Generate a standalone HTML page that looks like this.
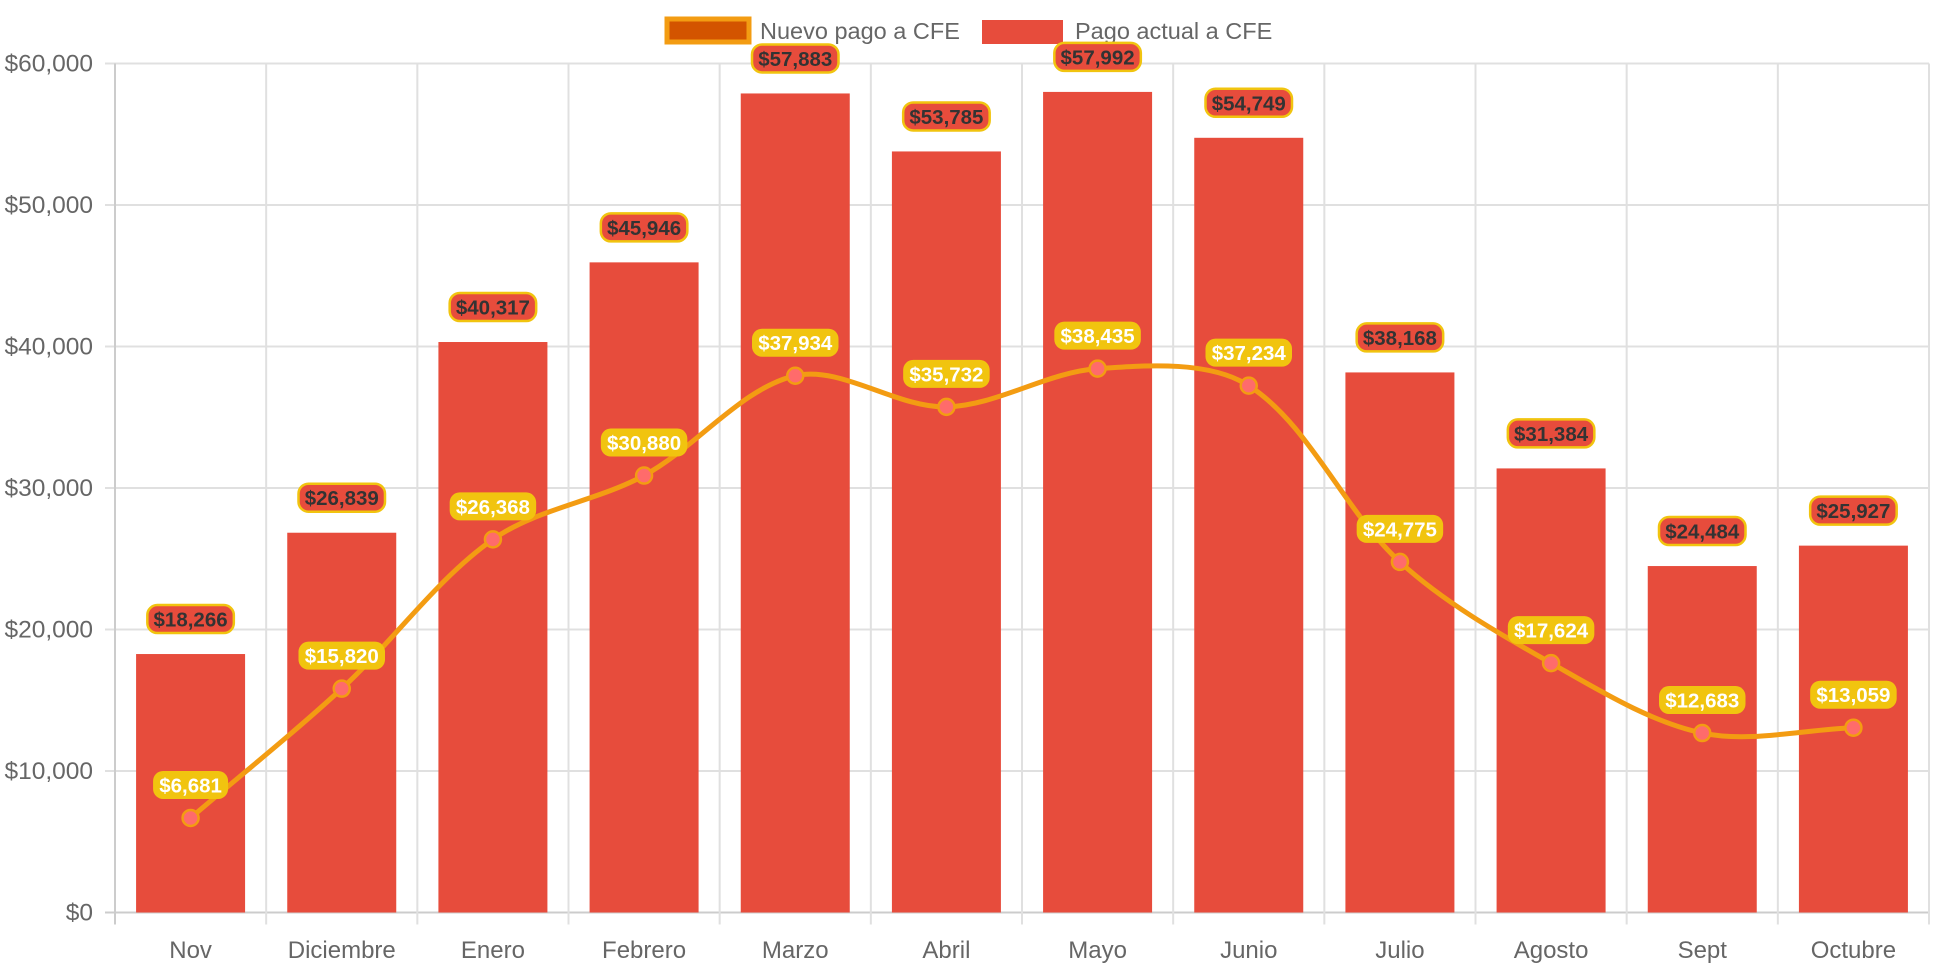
<!DOCTYPE html>
<html><head><meta charset="utf-8"><style>
html,body{margin:0;padding:0;background:#fff;}
svg{display:block;font-family:"Liberation Sans",Arial,sans-serif;}
</style></head><body>
<svg id="chart" width="1942" height="970" viewBox="0 0 1942 970">
<g id="legend">
 <g>
  <rect x="667" y="19" width="82" height="23" fill="#d35400" stroke="#f39c12" stroke-width="5"/>
  <text x="760" y="39" font-size="23.5" fill="#666">Nuevo pago a CFE</text>
 </g>
 <g>
  <rect x="982" y="20" width="81" height="24" fill="#e74c3c"/>
  <text x="1075" y="39" font-size="23.5" fill="#666">Pago actual a CFE</text>
 </g>
</g>
<g id="grid"></g>
<g id="bars"></g>
<g id="line"></g>
<g id="labels"></g>
</svg>
<script>
const categories=["Nov","Diciembre","Enero","Febrero","Marzo","Abril","Mayo","Junio","Julio","Agosto","Sept","Octubre"];
const actualValues=[18266,26839,40317,45946,57883,53785,57992,54749,38168,31384,24484,25927];
const newValues=[6681,15820,26368,30880,37934,35732,38435,37234,24775,17624,12683,13059];
const yTicks=[0,10000,20000,30000,40000,50000,60000];
const NS="http://www.w3.org/2000/svg";
const L=115,R=1929,T=63.5,B=912.5,YMAX=60000;
const cw=(R-L)/categories.length;
const xC=i=>L+cw*(i+0.5);
const y=v=>B-(v/YMAX)*(B-T);
const fmt=v=>"$"+v.toLocaleString("en-US");
function mk(tag,attrs,parent){const e=document.createElementNS(NS,tag);for(const k in attrs)e.setAttribute(k,attrs[k]);parent.appendChild(e);return e;}
const grid=document.getElementById('grid');
yTicks.forEach(v=>{
 const ln=mk('line',{x1:L-10,x2:R,y1:y(v),y2:y(v),stroke:v===0?'#ccc':'#e0e0e0','stroke-width':2},grid);
 
 
 const t=mk('text',{x:L-22,y:y(v)+8,'text-anchor':'end','font-size':24.5,fill:'#666'},grid);
 t.textContent=fmt(v);
 
 
});
for(let i=0;i<=categories.length;i++){
 const x=L+cw*i;
 const ln=mk('line',{x1:x,x2:x,y1:T,y2:B+12,stroke:i===0?'#ccc':'#e0e0e0','stroke-width':2},grid);
 
 
}
categories.forEach((c,i)=>{
 const t=mk('text',{x:xC(i),y:958,'text-anchor':'middle','font-size':24,fill:'#666'},grid);
 t.textContent=c;
 
 
});
const bars=document.getElementById('bars');
const bw=109;
actualValues.forEach((v,i)=>{
 const r=mk('rect',{x:xC(i)-bw/2,y:y(v),width:bw,height:B-y(v),fill:'#e74c3c'},bars);
 
 
});
const pts=newValues.map((v,i)=>({x:xC(i),y:y(v)}));
const t=0.33,cps=[];
for(let i=0;i<pts.length;i++){
 const p=pts[i-1]||pts[i],c=pts[i],n=pts[i+1]||pts[i];
 const d01=Math.hypot(c.x-p.x,c.y-p.y),d12=Math.hypot(n.x-c.x,n.y-c.y);
 let s01=d01/(d01+d12),s12=d12/(d01+d12);
 if(isNaN(s01))s01=0;if(isNaN(s12))s12=0;
 const fa=t*s01,fb=t*s12;
 cps.push({p:{x:c.x-fa*(n.x-p.x),y:c.y-fa*(n.y-p.y)},n:{x:c.x+fb*(n.x-p.x),y:c.y+fb*(n.y-p.y)}});
}
let d="M"+pts[0].x+","+pts[0].y;
for(let i=1;i<pts.length;i++){d+=` C${cps[i-1].n.x},${cps[i-1].n.y} ${cps[i].p.x},${cps[i].p.y} ${pts[i].x},${pts[i].y}`;}
const lineG=document.getElementById('line');
const path=mk('path',{d:d,fill:'none',stroke:'#f39c12','stroke-width':5},lineG);


pts.forEach((p,i)=>{
 const c=mk('circle',{cx:p.x,cy:p.y,r:8,fill:'#ff6b6b',stroke:'#f39c12','stroke-width':2.5},lineG);
 
 
});
const labels=document.getElementById('labels');
function label(cx,cy,txt,fill,stroke,color,name){
 const g=mk('g',{},labels);
 
 
 const w=txt.length*11.5+6,h=28;
 mk('rect',{x:cx-w/2,y:cy-h/2,width:w,height:h,rx:10,fill:fill,stroke:stroke||'none','stroke-width':2.5},g);
 const tx=mk('text',{x:cx,y:cy+7.5,'text-anchor':'middle','font-size':20.5,'font-weight':'bold',fill:color},g);
 tx.textContent=txt;
}
actualValues.forEach((v,i)=>label(xC(i),y(v)-35,fmt(v),'#e74c3c','#f1c40f','#333','bar-value-label'));
newValues.forEach((v,i)=>label(xC(i),y(v)-33,fmt(v),'#f1c40f',null,'#fff','line-value-label'));
</script>
</body></html>
